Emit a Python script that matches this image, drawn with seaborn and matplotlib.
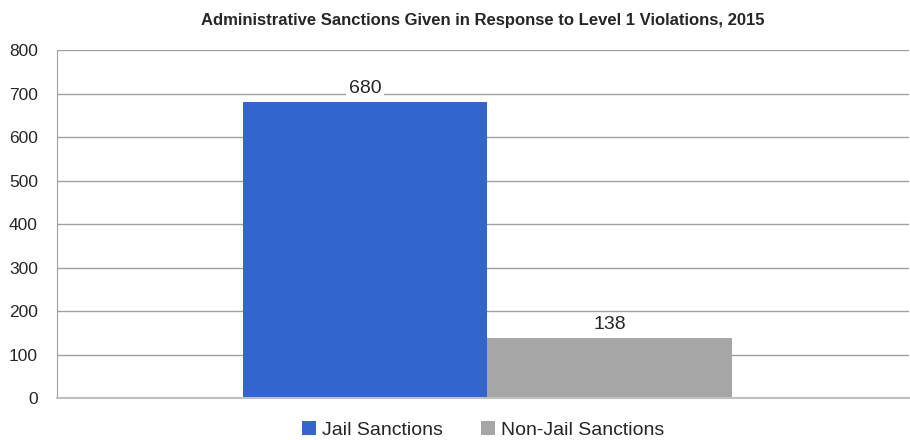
import matplotlib
matplotlib.use("Agg")
import matplotlib.pyplot as plt
import seaborn as sns
import pandas as pd

# data
categories = ["2015"]
series = ["Jail Sanctions", "Non-Jail Sanctions"]
values = [680, 138]
colors = ["#3366CC", "#A6A6A6"]

df = pd.DataFrame({"year": categories * len(series), "type": series, "count": values})

sns.set_style("white")
plt.rcParams["font.family"] = ["Liberation Sans", "DejaVu Sans"]

fig, ax = plt.subplots(figsize=(9.1, 4.4), dpi=100)
fig.subplots_adjust(left=0.063, right=0.999, top=0.886, bottom=0.095)

sns.barplot(data=df, x="year", y="count", hue="type", palette=colors,
            width=0.575, gap=0, saturation=1, linewidth=0, ax=ax, zorder=2)

ax.set_ylim(0, 800)
ax.set_xlim(-0.505, 0.495)
ax.set_yticks(range(0, 801, 100))
ax.yaxis.grid(True, color="#A0A0A0", linewidth=1, zorder=0)
ax.set_axisbelow(True)
ax.tick_params(axis="y", labelsize=12.5, length=0, pad=14)
ax.set_xticks([])
ax.set_xlabel("")
ax.set_ylabel("")

for s in ["top", "right"]:
    ax.spines[s].set_visible(False)
ax.spines["left"].set_color("#A0A0A0")
ax.spines["bottom"].set_color("#C0C0C0")
ax.spines["bottom"].set_linewidth(1.5)

for cont in ax.containers:
    ax.bar_label(cont, fmt="%d", fontsize=14, padding=4,
                 bbox=dict(facecolor="white", edgecolor="none", pad=2))

ax.set_title("Administrative Sanctions Given in Response to Level 1 Violations, 2015",
             fontsize=12, fontweight="bold", pad=18)

ax.legend(loc="upper center", bbox_to_anchor=(0.5, -0.015), ncol=2, frameon=False,
          fontsize=14, handlelength=0.7, handleheight=0.7, handletextpad=0.3,
          columnspacing=2.0)

fig.savefig("out.png", dpi=100)
